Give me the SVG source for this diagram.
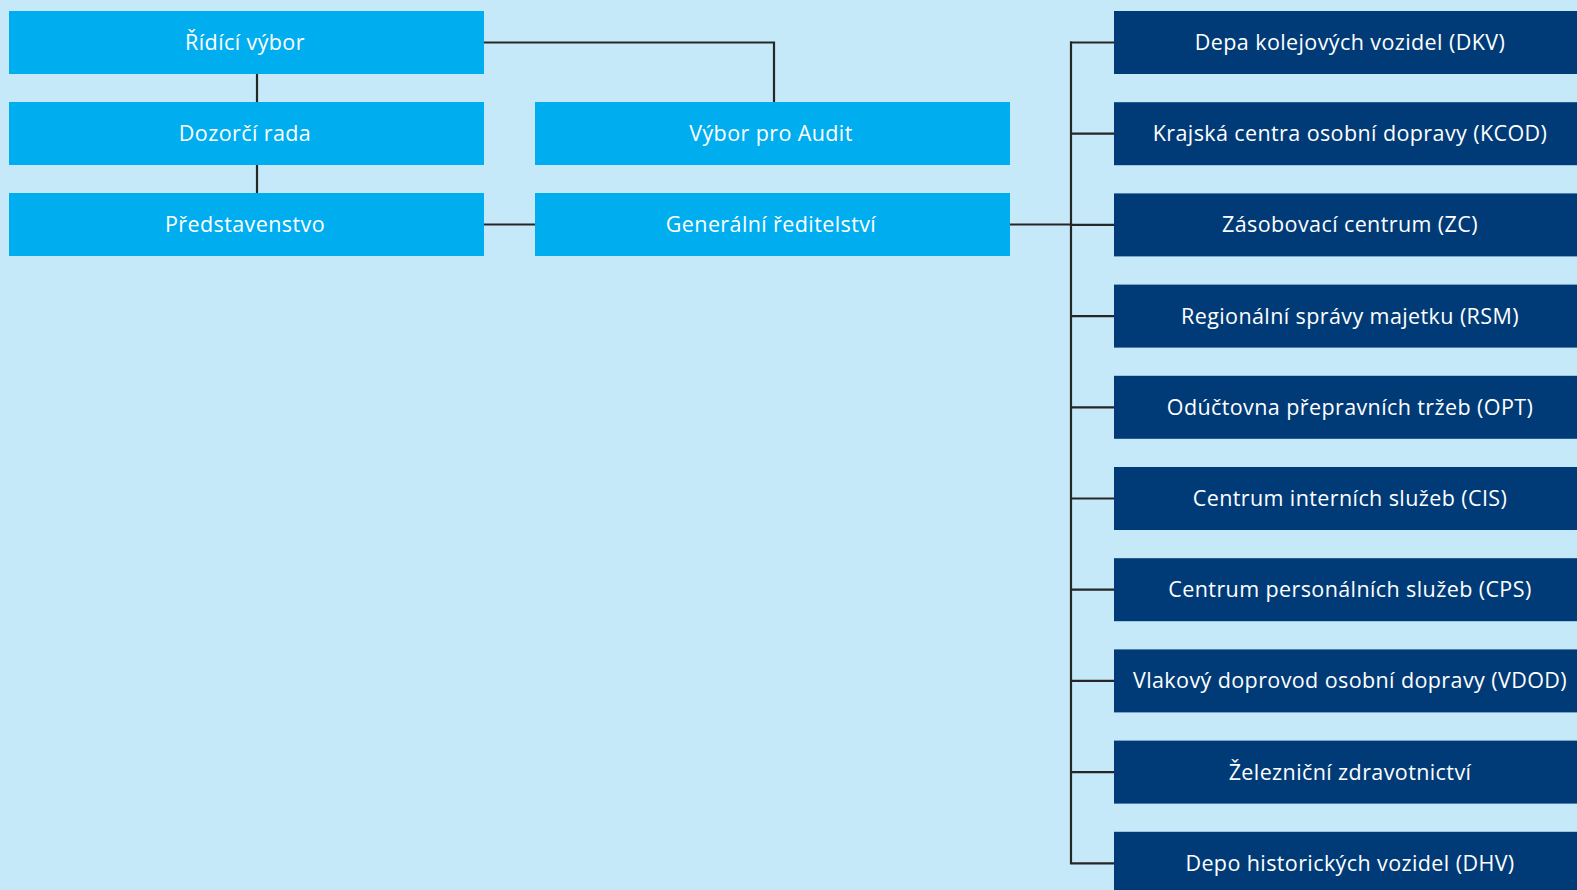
<svg xmlns="http://www.w3.org/2000/svg" width="1577" height="890" viewBox="0 0 1577 890">
<style>
.bg{fill:#c6e9f9}
.lb{fill:#00aeef}
.db{fill:#003b77}
.t{fill:#ffffff;font-family:"Open Sans","Noto Sans","Liberation Sans",sans-serif;font-size:21.5px;letter-spacing:0.4px;text-anchor:middle;dominant-baseline:central}
.c{stroke:#262626;stroke-width:2.2;fill:none}
</style>
<rect class="bg" x="0" y="0" width="1577" height="890"/>
<g id="connectors">
<path class="c" d="M257 73 V103 M257 164 V194"/>
<path class="c" d="M483 42.5 H774 V103"/>
<path class="c" d="M483 224.5 H536"/>
<path class="c" d="M1009 224.5 H1071"/>
<path class="c" d="M1071 41.5 V864"/>
<path class="c" d="M1070 42.5 H1115 M1070 133.7 H1115 M1070 224.9 H1115 M1070 316.1 H1115 M1070 407.3 H1115 M1070 498.5 H1115 M1070 589.7 H1115 M1070 680.9 H1115 M1070 772.1 H1115 M1070 863.3 H1115"/>
</g>
<g id="ridici-vybor"><rect class="lb" x="9" y="11" width="475" height="63"/><text class="t" x="245" y="41.5">Řídící výbor</text></g>
<g id="dozorci-rada"><rect class="lb" x="9" y="102" width="475" height="63"/><text class="t" x="245" y="132.5">Dozorčí rada</text></g>
<g id="predstavenstvo"><rect class="lb" x="9" y="193" width="475" height="63"/><text class="t" x="245" y="223.5">Představenstvo</text></g>
<g id="vybor-audit"><rect class="lb" x="535" y="102" width="475" height="63"/><text class="t" x="771" y="132.5">Výbor pro Audit</text></g>
<g id="generalni"><rect class="lb" x="535" y="193" width="475" height="63"/><text class="t" x="771" y="223.5">Generální ředitelství</text></g>
<g id="dkv"><rect class="db" x="1114" y="11" width="475" height="63"/><text class="t" x="1350" y="41.5">Depa kolejových vozidel (DKV)</text></g>
<g id="kcod"><rect class="db" x="1114" y="102.2" width="475" height="63"/><text class="t" x="1350" y="132.7">Krajská centra osobní dopravy (KCOD)</text></g>
<g id="zc"><rect class="db" x="1114" y="193.4" width="475" height="63"/><text class="t" x="1350" y="223.9">Zásobovací centrum (ZC)</text></g>
<g id="rsm"><rect class="db" x="1114" y="284.6" width="475" height="63"/><text class="t" x="1350" y="315.1">Regionální správy majetku (RSM)</text></g>
<g id="opt"><rect class="db" x="1114" y="375.8" width="475" height="63"/><text class="t" x="1350" y="406.3">Odúčtovna přepravních tržeb (OPT)</text></g>
<g id="cis"><rect class="db" x="1114" y="467" width="475" height="63"/><text class="t" x="1350" y="497.5">Centrum interních služeb (CIS)</text></g>
<g id="cps"><rect class="db" x="1114" y="558.2" width="475" height="63"/><text class="t" x="1350" y="588.7">Centrum personálních služeb (CPS)</text></g>
<g id="vdod"><rect class="db" x="1114" y="649.4" width="475" height="63"/><text class="t" x="1350" y="679.9">Vlakový doprovod osobní dopravy (VDOD)</text></g>
<g id="zdravotnictvi"><rect class="db" x="1114" y="740.6" width="475" height="63"/><text class="t" x="1350" y="771.1">Železniční zdravotnictví</text></g>
<g id="dhv"><rect class="db" x="1114" y="831.8" width="475" height="63"/><text class="t" x="1350" y="862.3">Depo historických vozidel (DHV)</text></g>
</svg>
